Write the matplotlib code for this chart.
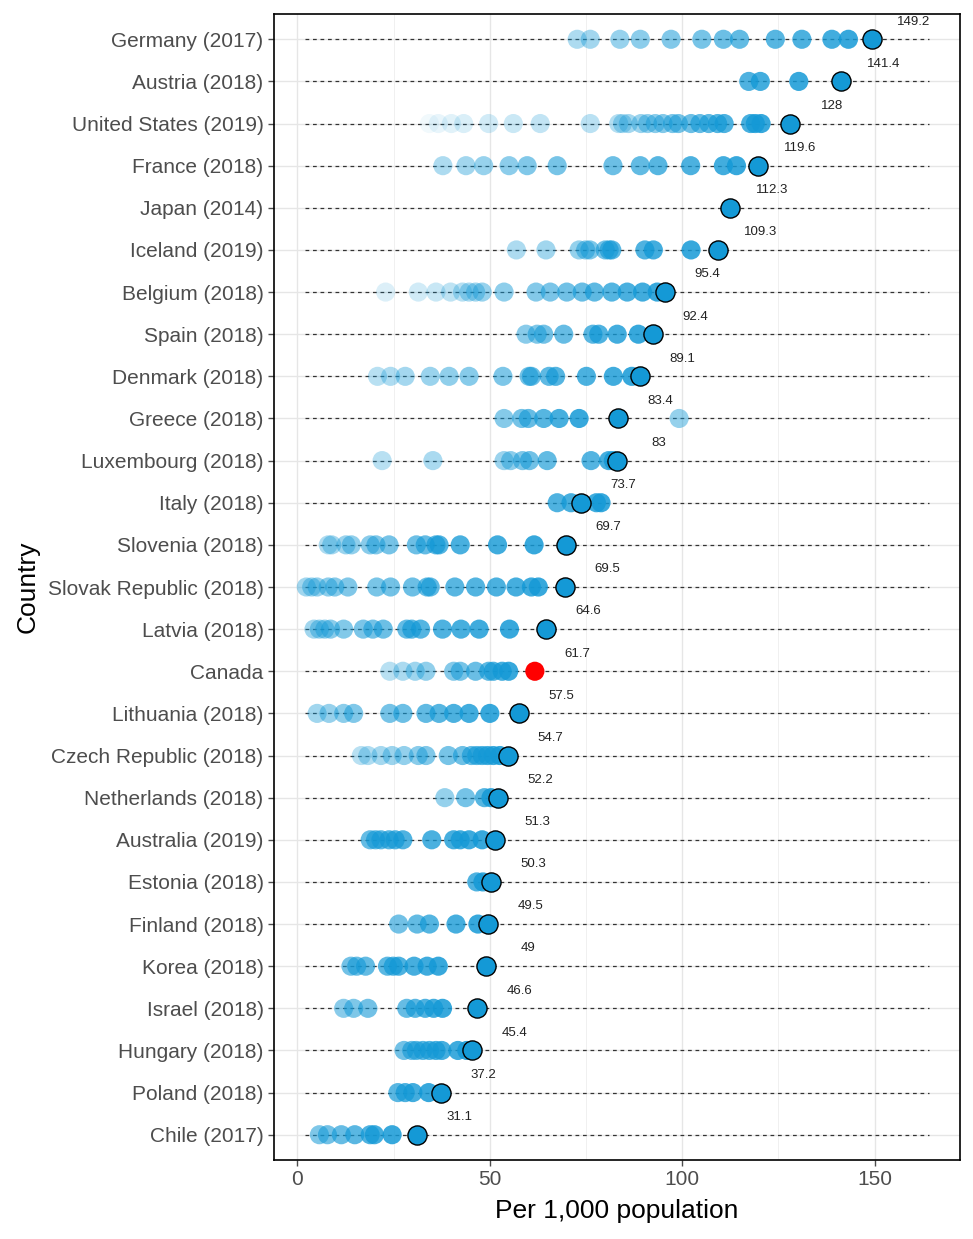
import matplotlib
matplotlib.use("Agg")
import matplotlib.pyplot as plt
from matplotlib.ticker import MultipleLocator

plt.rcParams['font.family'] = ['Liberation Sans', 'DejaVu Sans']

countries = ["Germany (2017)", "Austria (2018)", "United States (2019)", "France (2018)",
             "Japan (2014)", "Iceland (2019)", "Belgium (2018)", "Spain (2018)",
             "Denmark (2018)", "Greece (2018)", "Luxembourg (2018)", "Italy (2018)",
             "Slovenia (2018)", "Slovak Republic (2018)", "Latvia (2018)", "Canada",
             "Lithuania (2018)", "Czech Republic (2018)", "Netherlands (2018)",
             "Australia (2019)", "Estonia (2018)", "Finland (2018)", "Korea (2018)",
             "Israel (2018)", "Hungary (2018)", "Poland (2018)", "Chile (2017)"]

latest = [149.2, 141.4, 128, 119.6, 112.3, 109.3, 95.4, 92.4, 89.1, 83.4, 83, 73.7,
          69.7, 69.5, 64.6, 61.7, 57.5, 54.7, 52.2, 51.3, 50.3, 49.5, 49, 46.6, 45.4,
          37.2, 31.1]

# earlier years (chronological order), per country
hist_germany = [72.7, 76.1, 83.8, 89.1, 97.1, 105.1, 110.7, 114.9, 124.2, 131.1, 138.9, 143.2]
hist_austria = [117.3, 120.3, 130.3]
hist_us = [34.3, 36.6, 40.0, 43.2, 49.7, 56.1, 63.1, 76.1, 83.5, 84.5, 86.0, 89.3, 91.0,
           93.0, 95.0, 97.5, 99.0, 102.3, 104.6, 106.9, 109.2, 110.9, 117.8, 119.0, 120.5]
hist_france = [37.8, 43.8, 48.4, 55.0, 59.7, 67.5, 82.0, 89.1, 93.7, 102.2, 110.7, 114.1]
hist_japan = []
hist_iceland = [56.9, 64.6, 73.2, 74.9, 76.0, 80.0, 81.0, 81.7, 90.3, 92.5, 102.3]
hist_belgium = [22.9, 31.4, 36.0, 39.8, 42.9, 44.6, 46.3, 48.0, 53.7, 62.0, 65.7, 70.0,
                74.0, 77.2, 81.7, 85.7, 89.7, 93.5]
hist_spain = [59.4, 62.3, 64.0, 69.2, 76.8, 78.3, 83.1, 88.6]
hist_denmark = [20.8, 24.2, 28.0, 34.5, 39.4, 44.6, 53.4, 60.2, 60.8, 65.4, 67.1, 75.1, 82.1, 86.9]
hist_greece = [99.2, 53.7, 58.3, 60.0, 64.0, 68.0, 73.2]
hist_luxembourg = [22.0, 35.2, 53.7, 55.4, 58.5, 60.3, 64.9, 76.3, 80.9, 82.1]
hist_italy = [67.5, 71.1, 77.7, 78.9]
hist_slovenia = [8.0, 8.9, 12.6, 14.0, 18.9, 20.4, 23.8, 30.9, 33.2, 36.0, 36.8, 42.3, 52.0, 61.5]
hist_slovak = [2.3, 3.7, 5.1, 8.0, 9.7, 13.1, 20.6, 24.2, 29.9, 33.7, 34.5, 40.9, 46.3,
               51.7, 56.8, 60.8, 62.6]
hist_latvia = [4.3, 5.7, 7.1, 8.6, 12.0, 17.1, 19.6, 22.3, 28.4, 29.7, 32.0, 37.7, 42.5, 47.2, 55.1]
hist_canada = [24.0, 27.4, 30.6, 33.4, 40.6, 42.3, 46.3, 49.7, 50.9, 53.2, 54.9]
hist_lithuania = [5.1, 8.2, 12.0, 14.6, 24.0, 27.4, 33.4, 36.8, 40.6, 44.6, 50.0]
hist_czech = [16.6, 18.3, 21.7, 24.6, 27.7, 31.4, 33.4, 39.2, 42.9, 45.2, 46.6, 48.0,
              49.4, 50.9, 52.6]
hist_netherlands = [38.3, 43.7, 48.6, 50.3]
hist_australia = [18.9, 20.3, 21.7, 23.8, 25.4, 27.4, 34.9, 40.6, 42.3, 44.6, 48.0]
hist_estonia = [46.6, 48.2]
hist_finland = [26.3, 31.1, 34.3, 41.2, 46.9]
hist_korea = [13.9, 15.4, 17.7, 23.4, 24.9, 26.3, 30.3, 33.7, 36.6]
hist_israel = [12.0, 14.6, 18.3, 28.4, 30.6, 33.2, 35.4, 37.7]
hist_hungary = [27.7, 29.7, 30.9, 32.6, 34.3, 36.0, 37.5, 41.7, 44.0]
hist_poland = [26.1, 28.0, 30.0, 34.1]
hist_chile = [5.7, 7.8, 11.4, 14.9, 18.9, 20.0, 24.6]

history = [hist_germany, hist_austria, hist_us, hist_france, hist_japan, hist_iceland,
           hist_belgium, hist_spain, hist_denmark, hist_greece, hist_luxembourg, hist_italy,
           hist_slovenia, hist_slovak, hist_latvia, hist_canada, hist_lithuania, hist_czech,
           hist_netherlands, hist_australia, hist_estonia, hist_finland, hist_korea,
           hist_israel, hist_hungary, hist_poland, hist_chile]

# transparency of the oldest point in each row (style)
first_alpha = [0.35, 0.75, 0.06, 0.35, 0.8, 0.35, 0.15, 0.5, 0.3, 0.45, 0.3, 0.75,
               0.35, 0.4, 0.4, 0.3, 0.4, 0.3, 0.45, 0.65, 0.75, 0.6, 0.6, 0.5, 0.6, 0.7, 0.55]

blue = "#1499d6"
fig = plt.figure(figsize=(9.73, 12.39), dpi=100)
ax = fig.add_axes([274/973, 1 - 1160/1239, (960-274)/973, (1160-14)/1239])

n = len(countries)
ys = [n - 1 - i for i in range(n)]

for y in ys:
    ax.plot([2, 164.1], [y, y], ls=(0, (3, 3)), color="#333333", lw=0.9, zorder=2)

for i, (vals, y) in enumerate(zip(history, ys)):
    k = len(vals)
    for j, v in enumerate(vals):
        a = first_alpha[i] + (0.85 - first_alpha[i]) * (j / (k - 1) if k > 1 else 1)
        ax.scatter([v], [y], s=190, color=blue, alpha=a, edgecolors='none', zorder=3)

for i, (v, y) in enumerate(zip(latest, ys)):
    if countries[i] == "Canada":
        ax.scatter([v], [y], s=190, color="#ff0000", edgecolors='none', zorder=4)
    else:
        ax.scatter([v], [y], s=190, color=blue, edgecolors='black', linewidths=1.0, zorder=4)
    ax.text(v + 11, y + 0.42, f"{v:g}", ha='center', va='center', fontsize=9.5,
            color="#222222", zorder=5)

ax.set_xlim(-6.1, 172.2)
ax.set_ylim(-0.6, n - 0.4)
ax.set_yticks(ys)
ax.set_yticklabels(countries)
ax.set_xticks([0, 50, 100, 150])
ax.xaxis.set_minor_locator(MultipleLocator(25))
ax.grid(True, which='major', color="#e6e6e6", lw=1.0, zorder=0)
ax.grid(True, which='minor', axis='x', color="#f0f0f0", lw=0.7, zorder=0)
ax.tick_params(axis='both', which='major', labelsize=15, colors="#4d4d4d",
               length=4, width=1)
ax.tick_params(axis='x', which='minor', length=0)
for lab in ax.get_xticklabels() + ax.get_yticklabels():
    lab.set_color("#4d4d4d")
for s in ax.spines.values():
    s.set_color("black")
    s.set_linewidth(1.2)
ax.set_axisbelow(True)
ax.set_xlabel("Per 1,000 population", fontsize=19, color="black", labelpad=7)
ax.set_ylabel("Country", fontsize=19, color="black", labelpad=6)

fig.savefig("out.png", dpi=100)
